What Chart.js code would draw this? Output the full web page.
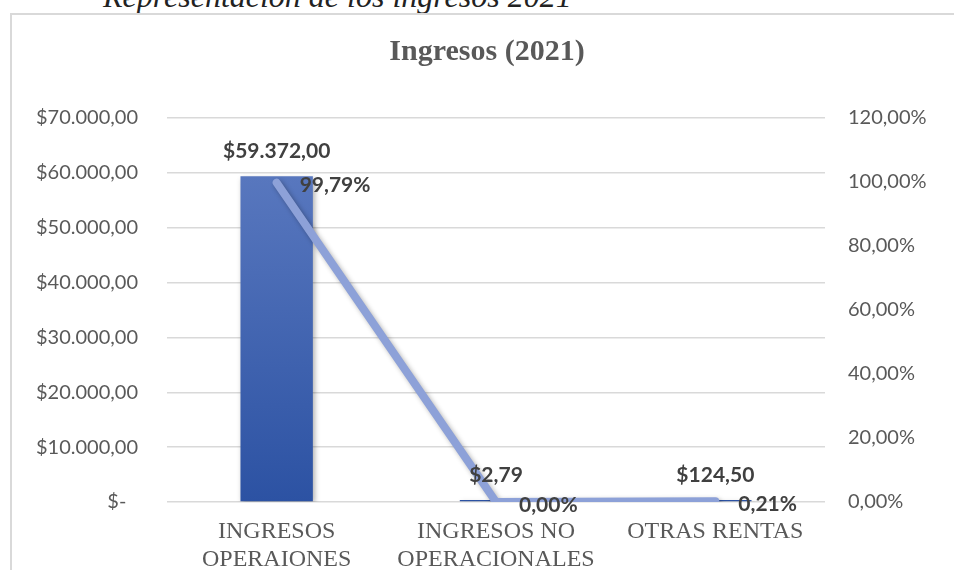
<!DOCTYPE html>
<html>
<head>
<meta charset="utf-8">
<script src="https://cdn.jsdelivr.net/npm/chart.js@4/dist/chart.umd.min.js"></script>
<style>
  body { margin: 0; background: #fff; width: 954px; height: 570px; overflow: hidden; position: relative; }
  #caption { position: absolute; left: 103px; top: -20px; font: italic 32px/32px "Liberation Serif", serif; color: #222; white-space: nowrap; }
  #frame { position: absolute; left: 10px; top: 13px; width: 1000px; height: 700px; border: 2px solid #d9d9d9; }
  #box { position: absolute; left: 0; top: 0; width: 954px; height: 570px; }
</style>
</head>
<body>
<div id="caption">Representación de los ingresos 2021</div>
<div id="frame"></div>
<div id="box"><canvas id="myChart"></canvas></div>
<script>
const CATEGORIES = [['INGRESOS', 'OPERAIONES'], ['INGRESOS NO', 'OPERACIONALES'], 'OTRAS RENTAS'];
const INGRESOS = [59372, 2.79, 124.50];
const PORCENTAJES = [99.79, 0.00, 0.21];

const LEFT_MAX = 70000;
const LEFT_STEP = 10000;
const RIGHT_MAX = 120;
const RIGHT_STEP = 20;

/*---- chart ----*/
let fmtNum = (value, decimals) => {
  let parts = value.toFixed(decimals).split('.');
  parts[0] = parts[0].replace(/\B(?=(\d{3})+(?!\d))/g, '.');
  return parts.join(',');
}
// accounting style: zero shows as "$-" with a padded dash
let money = (value) => value === 0 ? '$-\u2007' : '$' + fmtNum(value, 2);
let percent = (value) => fmtNum(value, 2) + '%';

let shadowPlugin = {
  id: 'shadow',
  beforeDatasetDraw: (chart) => {
    let ctx = chart.ctx;
    ctx.save();
    ctx.shadowColor = 'rgba(0,0,0,0.3)';
    ctx.shadowBlur = 5;
    ctx.shadowOffsetX = 2;
    ctx.shadowOffsetY = 2;
  },
  afterDatasetDraw: (chart) => {
    chart.ctx.restore();
  }
};

let labelsPlugin = {
  id: 'valueLabels',
  afterDatasetsDraw: (chart) => {
    let ctx = chart.ctx;
    ctx.save();
    ctx.font = 'bold 21px Lato';
    ctx.fillStyle = '#404040';
    ctx.textBaseline = 'middle';

    ctx.textAlign = 'center';
    chart.getDatasetMeta(1).data.forEach((bar, i) => {
      ctx.fillText(money(INGRESOS[i]), bar.x, bar.y - 25);
    });

    ctx.textAlign = 'left';
    chart.getDatasetMeta(0).data.forEach((pt, i) => {
      ctx.fillText(percent(PORCENTAJES[i]), pt.x + 23, pt.y + 3);
    });
    ctx.restore();
  }
};

let barFill = (context) => {
  let chart = context.chart;
  if (!chart.chartArea) return '#3a5fae';
  let y = chart.scales.y;
  let g = chart.ctx.createLinearGradient(0, y.getPixelForValue(Math.max(...INGRESOS)), 0, y.bottom);
  g.addColorStop(0, '#5877be');
  g.addColorStop(1, '#2c52a3');
  return g;
}

new Chart(document.getElementById('myChart'), {
  data: {
    labels: CATEGORIES,
    datasets: [
      {
        type: 'line',
        label: 'Porcentaje',
        data: PORCENTAJES,
        yAxisID: 'y1',
        borderColor: '#8da1d8',
        borderWidth: 8,
        borderCapStyle: 'round',
        borderJoinStyle: 'round',
        pointRadius: 0,
        tension: 0,
        order: 0
      },
      {
        type: 'bar',
        label: 'Ingresos',
        data: INGRESOS,
        yAxisID: 'y',
        backgroundColor: barFill,
        categoryPercentage: 1,
        barPercentage: 0.33,
        minBarLength: 2,
        order: 1
      }
    ]
  },
  options: {
    responsive: true,
    maintainAspectRatio: false,
    animation: false,
    layout: { padding: { left: 20, top: 0, right: 0, bottom: 0 } },
    plugins: {
      legend: { display: false },
      tooltip: { enabled: false },
      title: {
        display: true,
        text: 'Ingresos (2021)',
        color: '#595959',
        font: { family: 'Liberation Serif', size: 30, weight: 'bold', lineHeight: 1.2 },
        padding: { top: 34, bottom: 48 }
      }
    },
    scales: {
      x: {
        grid: { display: false, drawTicks: false },
        border: { display: false },
        ticks: {
          color: '#595959',
          padding: 16,
          maxRotation: 0,
          autoSkip: false,
          font: { family: 'Liberation Serif', size: 24, lineHeight: 1.15 }
        },
        afterFit: (s) => { s.height = 68; }
      },
      y: {
        position: 'left',
        min: 0,
        max: LEFT_MAX,
        grid: { color: '#d9d9d9', lineWidth: 1.5, drawTicks: false },
        border: { display: false },
        ticks: {
          stepSize: LEFT_STEP,
          color: '#595959',
          padding: 29,
          font: { family: 'Lato', size: 20 },
          callback: (v) => money(v)
        },
        afterFit: (s) => { s.width = 147; }
      },
      y1: {
        position: 'right',
        min: 0,
        max: RIGHT_MAX,
        grid: { display: false, drawTicks: false },
        border: { display: false },
        ticks: {
          stepSize: RIGHT_STEP,
          color: '#595959',
          padding: 23,
          font: { family: 'Lato', size: 20 },
          callback: (v) => percent(v)
        },
        afterFit: (s) => { s.width = 129; }
      }
    }
  },
  plugins: [shadowPlugin, labelsPlugin]
});
</script>
</body>
</html>
